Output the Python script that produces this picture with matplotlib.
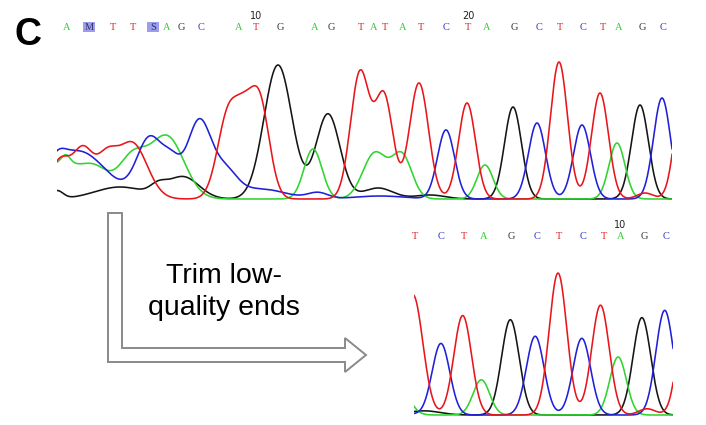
import numpy as np
import matplotlib
matplotlib.use("Agg")
import matplotlib.pyplot as plt
from matplotlib.patches import Polygon, Rectangle

# ---------------------------
# data: base calls + peaks (position in scan units, height, width)
# ---------------------------
bases = list("AMTTSAGCATGAGTATATCTAGCTCTAGC")
base_pos = [67, 89, 113, 133, 153, 167, 181, 201, 239, 256, 280, 315, 331,
            361, 374, 385, 403, 421, 446, 468, 487, 514, 539, 560, 583, 603,
            619, 642, 663]
trim_start = 17   # first base kept after trimming

peaks_A = [(60, 36, 18), (66, 7, 4), (95, 28, 14), (132, 40, 14), (167, 62, 17),
           (313, 50, 9), (375, 46, 12), (402, 43, 10), (485, 34, 8), (617, 56, 8)]
peaks_C = [(57, 12, 8), (78, 48, 28), (150, 60, 13), (172, 28, 9), (199, 77, 12),
           (225, 25, 12), (260, 10, 25), (318, 6, 10), (380, 3, 25),
           (446, 69, 8.5), (537, 76, 8.5), (582, 74, 8.5), (662, 101, 8.5)]
peaks_G = [(57, 8, 6), (120, 12, 25), (158, 8, 8), (183, 22, 16),
           (278, 134, 14), (328, 85, 12), (378, 11, 15), (430, 4, 15),
           (513, 92, 8.5), (640, 94, 8.5)]
peaks_T = [(60, 38, 10), (83, 48, 10), (106, 35, 10), (132, 56, 15),
           (229, 88, 11), (244, 40, 8), (259, 100, 10),
           (360, 126, 9.5), (384, 102, 9), (419, 116, 9.5), (467, 96, 8.5),
           (559, 137, 8.5), (600, 106, 8.5), (645, 6, 8), (684, 120, 8.5)]

colors = {"A": "#2fd42f", "C": "#2020d8", "G": "#151515", "T": "#e8161b"}
letter_colors = {"A": "#33cc33", "C": "#3333cc", "G": "#333333", "T": "#dd2222",
                 "M": "#333366", "S": "#333366"}

W, H = 706, 425


def trace(x, peaks):
    y = np.zeros_like(x)
    for p, h, s in peaks:
        y += h * np.exp(-(x - p) ** 2 / (2 * s ** 2))
    return y


x = np.linspace(40, 700, 3000)
traces = {ch: trace(x, pk) for ch, pk in
          [("A", peaks_A), ("C", peaks_C), ("G", peaks_G), ("T", peaks_T)]}

fig = plt.figure(figsize=(W / 100, H / 100), dpi=100)

# overlay in pixel coords for panel label, arrow and text
ax0 = fig.add_axes([0, 0, 1, 1])
ax0.set_xlim(0, W)
ax0.set_ylim(H, 0)
ax0.axis("off")


def add_chrom(px0, px1, base_px, scale, xlo, xhi, first):
    # axes mapping xlo..xhi to pixels px0..px1, baseline at pixel base_px
    ylo, yhi = -3, 190
    bottom = base_px - ylo * scale
    top = bottom - (yhi - ylo) * scale
    ax = fig.add_axes([px0 / W, (H - bottom) / H, (px1 - px0) / W, (bottom - top) / H])
    ax.set_xlim(xlo, xhi)
    ax.set_ylim(ylo, yhi)
    ax.axis("off")
    for ch in ["G", "A", "C", "T"]:
        ax.plot(x, traces[ch], color=colors[ch], lw=1.15)
    # base calls
    n = 0
    for i in range(first, len(bases)):
        b, p = bases[i], base_pos[i]
        if p < xlo - 8 or p > xhi:
            continue
        n += 1
        if b in ("M", "S"):
            ax.add_patch(Rectangle((p - 6, 167), 12, 10, color="#9d9df0",
                                   clip_on=False, lw=0))
        ax.text(p, 172, b, ha="center", va="center", fontsize=7.5,
                family="Liberation Serif", color=letter_colors[b], clip_on=False)
        if n % 10 == 0:
            ax.text(p, 183, str(n), ha="center", va="center", fontsize=7,
                    family="DejaVu Sans", color="#222222", clip_on=False)
    return ax


add_chrom(57, 672, 199, 1.0, 57, 672, 0)
add_chrom(414, 673, 415, 259 / 250, 420, 670, trim_start)

# panel label
ax0.text(15, 45, "C", fontsize=27, fontweight="bold", family="Liberation Sans",
         ha="left", va="baseline")

# L-shaped arrow
arrow = [(108, 213), (122, 213), (122, 348), (345, 348), (345, 338),
         (366, 355), (345, 372), (345, 362), (108, 362)]
ax0.add_patch(Polygon(arrow, closed=True, fc="white", ec="#8a8a8a", lw=1.4))

ax0.text(224, 283, "Trim low-", fontsize=20.5, family="Liberation Sans",
         ha="center", va="baseline")
ax0.text(224, 315, "quality ends", fontsize=20.5, family="Liberation Sans",
         ha="center", va="baseline")

plt.savefig("out.png", dpi=100)
